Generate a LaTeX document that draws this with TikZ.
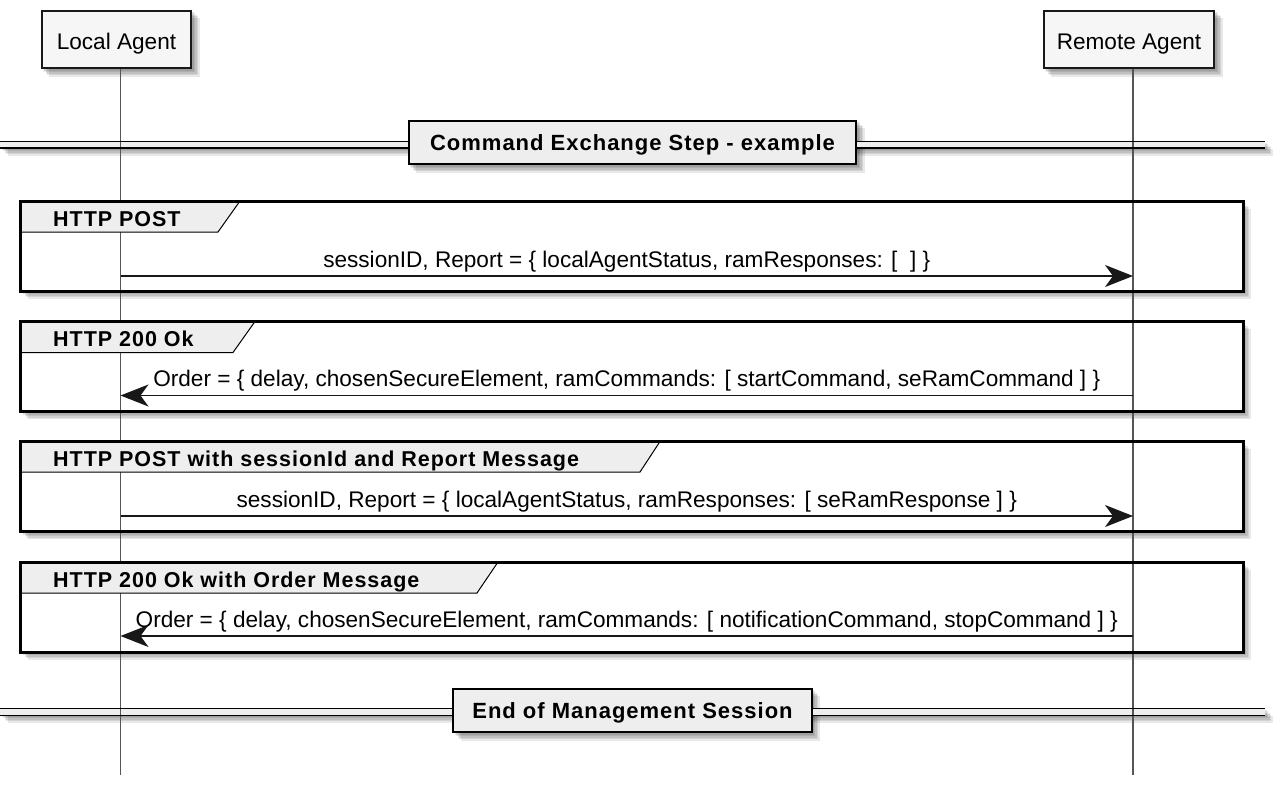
\documentclass[tikz,border=0pt]{standalone}
\usepackage{fontspec}
\setmainfont{Liberation Sans}
\newfontfamily\spbold[LetterSpace=4.5]{Liberation Sans Bold}
\usetikzlibrary{arrows.meta}
\definecolor{partfill}{HTML}{F6F6F6}
\definecolor{grpfill}{HTML}{EEEEEE}
\definecolor{ln}{HTML}{181818}
\definecolor{lifeln}{HTML}{555555}
\newcommand\dropshadow[4]{%
  \foreach \o in {1.5,3,4.5,6,7.5}{\fill[black,opacity=0.09] ({#1+\o},{#2+\o}) rectangle ({#3+\o},{#4+\o});}}
\begin{document}
\begin{tikzpicture}[x=1pt,y=-1pt,
  every node/.style={font=\fontsize{22.6}{26}\selectfont, inner sep=0pt},
  partbox/.style={draw=ln, line width=2.5pt, fill=partfill, minimum height=57pt, text height=19.6pt, text depth=0pt},
  divbox/.style={draw=black, line width=2.5pt, fill=grpfill, minimum height=43pt, text height=16pt, text depth=0pt, font=\fontsize{22}{26}\spbold},
  grplabel/.style={anchor=base west, font=\fontsize{21.5}{26}\spbold},
  frameline/.style={draw=black, line width=3pt},
  tabshape/.style={fill=grpfill, draw=black, line width=1pt},
  dline/.style={draw=black, line width=1.6pt},
  lifeline/.style={draw=lifeln, line width=1.3pt},
  msg/.style={draw=ln, line width=1.3pt, -{Stealth[length=28pt,width=22pt,inset=8pt]}},
  msglabel/.style={midway, anchor=base, yshift=9pt}
]
\useasboundingbox (0,0) rectangle (1277,787);

% ---------- shadows ----------
\dropshadow{41}{10}{192}{69}
\dropshadow{1043}{10}{1215}{69}
\dropshadow{0}{141.3}{1265}{148}
\dropshadow{408}{120}{857}{165}
\dropshadow{20}{201}{1243}{291}
\dropshadow{20}{321.5}{1243}{411.5}
\dropshadow{20}{441.5}{1243}{531.5}
\dropshadow{20}{562}{1243}{652}
\dropshadow{0}{708.3}{1265}{715.3}
\dropshadow{453}{688}{812}{733}

% ---------- fills ----------
\fill[white] (20,201) rectangle (1243,291);
\fill[white] (20,321.5) rectangle (1243,411.5);
\fill[white] (20,441.5) rectangle (1243,531.5);
\fill[white] (20,562) rectangle (1243,652);
\fill[grpfill] (0,141.3) rectangle (1265,148);
\fill[grpfill] (0,708.3) rectangle (1265,715.3);

% ---------- lifelines ----------
\coordinate (LAtop) at (120.5,69);
\coordinate (LAbot) at (120.5,775);
\coordinate (RAtop) at (1133,69);
\coordinate (RAbot) at (1133,775);
\draw[lifeline] (LAtop) -- (LAbot);
\draw[lifeline] (RAtop) -- (RAbot);

% ---------- participants ----------
\node[partbox, minimum width=149pt] (LA) at (116.5,39.5) {Local Agent};
\node[partbox, minimum width=170pt] (RA) at (1129,39.5) {Remote Agent};

% ---------- divider 1 ----------
\draw[dline] (0,141.3) -- (408,141.3) (857,141.3) -- (1265,141.3);
\draw[dline] (0,148) -- (408,148) (857,148) -- (1265,148);
\node[divbox, minimum width=447pt] (D1) at (632.5,142.5) {Command Exchange Step - example};

% ---------- group 1 ----------
\draw[tabshape] (20,201) -- (240,201) -- (218,232) -- (20,232) -- cycle;
\draw[frameline] (20,201) rectangle (1243,291);
\node[grplabel] (G1) at (53,226.5) {HTTP POST};
\coordinate (L1) at (120.5,276);
\coordinate (R1) at (1133,276);
\draw[msg] (L1) -- (R1) node[msglabel] (M1) {sessionID, Report = \{ localAgentStatus, ramResponses: [\ \ ] \}};

% ---------- group 2 ----------
\draw[tabshape] (20,321.5) -- (255,321.5) -- (233,352.5) -- (20,352.5) -- cycle;
\draw[frameline] (20,321.5) rectangle (1243,411.5);
\node[grplabel] (G2) at (53,346.5) {HTTP 200 Ok};
\coordinate (L2) at (120.5,395.5);
\coordinate (R2) at (1133,395.5);
\draw[msg] (R2) -- (L2) node[msglabel] (M2) {Order = \{ delay, chosenSecureElement, ramCommands: [ startCommand, seRamCommand ] \}};

% ---------- group 3 ----------
\draw[tabshape] (20,441.5) -- (660,441.5) -- (640,472) -- (20,472) -- cycle;
\draw[frameline] (20,441.5) rectangle (1243,531.5);
\node[grplabel] (G3) at (53,466.5) {HTTP POST with sessionId and Report Message};
\coordinate (L3) at (120.5,516);
\coordinate (R3) at (1133,516);
\draw[msg] (L3) -- (R3) node[msglabel] (M3) {sessionID, Report = \{ localAgentStatus, ramResponses: [ seRamResponse ] \}};

% ---------- group 4 ----------
\draw[tabshape] (20,562) -- (498,562) -- (477,593) -- (20,593) -- cycle;
\draw[frameline] (20,562) rectangle (1243,652);
\node[grplabel] (G4) at (53,587) {HTTP 200 Ok with Order Message};
\coordinate (L4) at (120.5,636);
\coordinate (R4) at (1133,636);
\draw[msg] (R4) -- (L4) node[msglabel] (M4) {Order = \{ delay, chosenSecureElement, ramCommands: [ notificationCommand, stopCommand ] \}};

% ---------- divider 2 ----------
\draw[dline] (0,708.3) -- (453,708.3) (812,708.3) -- (1265,708.3);
\draw[dline] (0,715.3) -- (453,715.3) (812,715.3) -- (1265,715.3);
\node[divbox, minimum width=359pt] (D2) at (632.5,710.5) {End of Management Session};
\end{tikzpicture}
\end{document}
